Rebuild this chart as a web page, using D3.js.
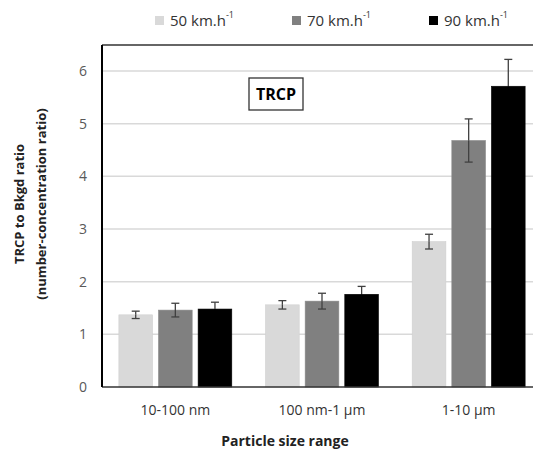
<!DOCTYPE html>
<html><head><meta charset="utf-8">
<script src="https://cdn.jsdelivr.net/npm/d3@7"></script>
<style>body{margin:0;background:#fff}svg{display:block}text{font-family:"Open Sans","Lato",sans-serif}</style>
</head><body>
<script>
const categories = ["10-100 nm", "100 nm-1 \u00b5m", "1-10 \u00b5m"];
const seriesNames = ["50 km.h", "70 km.h", "90 km.h"];
const seriesColors = ["#d9d9d9", "#808080", "#000000"];
const v50 = [1.37, 1.56, 2.76];
const v70 = [1.46, 1.63, 4.68];
const v90 = [1.48, 1.76, 5.71];
const e50 = [0.07, 0.08, 0.14];
const e70 = [0.13, 0.15, 0.41];
const e90 = [0.13, 0.15, 0.51];
const yTicks = [0, 1, 2, 3, 4, 5, 6];

const values = [v50, v70, v90];
const errors = [e50, e70, e90];

const W = 533, H = 451;
const svg = d3.select("body").append("svg").attr("width", W).attr("height", H);

const pL = 102, pR = 542, pT = 45, pB = 387;
const y = d3.scaleLinear().domain([0, 6]).range([pB, pB - 6 * 52.67]);
const x0 = d3.scaleBand().domain(categories).range([pL, pR]).paddingInner(0.23).paddingOuter(0.115);
const x1 = d3.scaleBand().domain(seriesNames).range([0, x0.bandwidth()]).paddingInner(0.15).paddingOuter(0);

// gridlines
svg.append("g").selectAll("line").data(yTicks.filter(d => d > 0)).join("line")
  .attr("x1", pL).attr("x2", pR).attr("y1", d => y(d)).attr("y2", d => y(d))
  .attr("stroke", "#d9d9d9").attr("stroke-width", 1.5);

// y tick labels
svg.append("g").selectAll("text").data(yTicks).join("text")
  .attr("x", 87).attr("y", d => y(d)).attr("dy", "0.35em").attr("text-anchor", "end")
  .attr("font-size", 14).attr("fill", "#595959").text(d => d);

// bars
const data = [];
categories.forEach((c, i) => seriesNames.forEach((s, j) => data.push({c, s, j, v: values[j][i], e: errors[j][i]})));
const g = svg.append("g");
g.selectAll("rect").data(data).join("rect")
  .attr("x", d => x0(d.c) + x1(d.s)).attr("width", x1.bandwidth())
  .attr("y", d => y(d.v)).attr("height", d => y(0) - y(d.v))
  .attr("fill", d => seriesColors[d.j])
  .attr("stroke", d => d.j === 0 ? "#d0d0d0" : (d.j === 1 ? "#8a8a8a" : "#000")).attr("stroke-width", 0.6);

// error bars
const eb = svg.append("g").attr("stroke-width", 1.3);
data.forEach(d => {
  const cx = x0(d.c) + x1(d.s) + x1.bandwidth() / 2;
  const lowCol = d.j === 2 ? "#000" : "#404040";
  eb.append("line").attr("x1", cx).attr("x2", cx).attr("y1", y(d.v + d.e)).attr("y2", y(d.v)).attr("stroke", "#404040");
  eb.append("line").attr("x1", cx).attr("x2", cx).attr("y1", y(d.v)).attr("y2", y(d.v - d.e)).attr("stroke", lowCol);
  eb.append("line").attr("x1", cx - 4).attr("x2", cx + 4).attr("y1", y(d.v + d.e)).attr("y2", y(d.v + d.e)).attr("stroke", "#404040");
  eb.append("line").attr("x1", cx - 4).attr("x2", cx + 4).attr("y1", y(d.v - d.e)).attr("y2", y(d.v - d.e)).attr("stroke", lowCol);
});

// frame
svg.append("line").attr("x1", pL).attr("x2", pR).attr("y1", pT).attr("y2", pT).attr("stroke", "#333").attr("stroke-width", 1.5);
svg.append("line").attr("x1", pL).attr("x2", pR).attr("y1", pB).attr("y2", pB).attr("stroke", "#333").attr("stroke-width", 1.5);
svg.append("line").attr("x1", pL).attr("x2", pL).attr("y1", pT).attr("y2", pB).attr("stroke", "#000").attr("stroke-width", 2);

// x labels
svg.append("g").selectAll("text").data(categories).join("text")
  .attr("x", d => x0(d) + x0.bandwidth() / 2).attr("y", 415).attr("text-anchor", "middle")
  .attr("font-size", 14).attr("fill", "#333").text(d => d);

svg.append("text").attr("x", 285).attr("y", 446).attr("text-anchor", "middle")
  .attr("font-size", 14).attr("font-weight", "bold").attr("fill", "#222").text("Particle size range");

// y title
const yt = svg.append("text").attr("transform", "translate(0,204) rotate(-90)").attr("text-anchor", "middle")
  .attr("font-size", 13).attr("font-weight", "bold").attr("fill", "#222");
yt.append("tspan").attr("x", 0).attr("y", 24).text("TRCP to Bkgd ratio");
yt.append("tspan").attr("x", 0).attr("y", 46).text("(number-concentration ratio)");

// TRCP box
svg.append("rect").attr("x", 249).attr("y", 78).attr("width", 54).attr("height", 32).attr("fill", "#fff").attr("stroke", "#333").attr("stroke-width", 1.3);
svg.append("text").attr("x", 276).attr("y", 94).attr("dy", "0.36em").attr("text-anchor", "middle")
  .attr("font-size", 16).attr("font-weight", "bold").attr("fill", "#000").text("TRCP");

// legend
const legX = [155, 292, 429];
seriesNames.forEach((s, j) => {
  svg.append("rect").attr("x", legX[j]).attr("y", 16).attr("width", 9).attr("height", 9).attr("fill", seriesColors[j]);
  const t = svg.append("text").attr("x", legX[j] + 15).attr("y", 26).attr("font-size", 15).attr("fill", "#333");
  t.append("tspan").text(s);
  t.append("tspan").attr("font-size", 9).attr("dy", -8).text("-1");
});
</script>
</body></html>
